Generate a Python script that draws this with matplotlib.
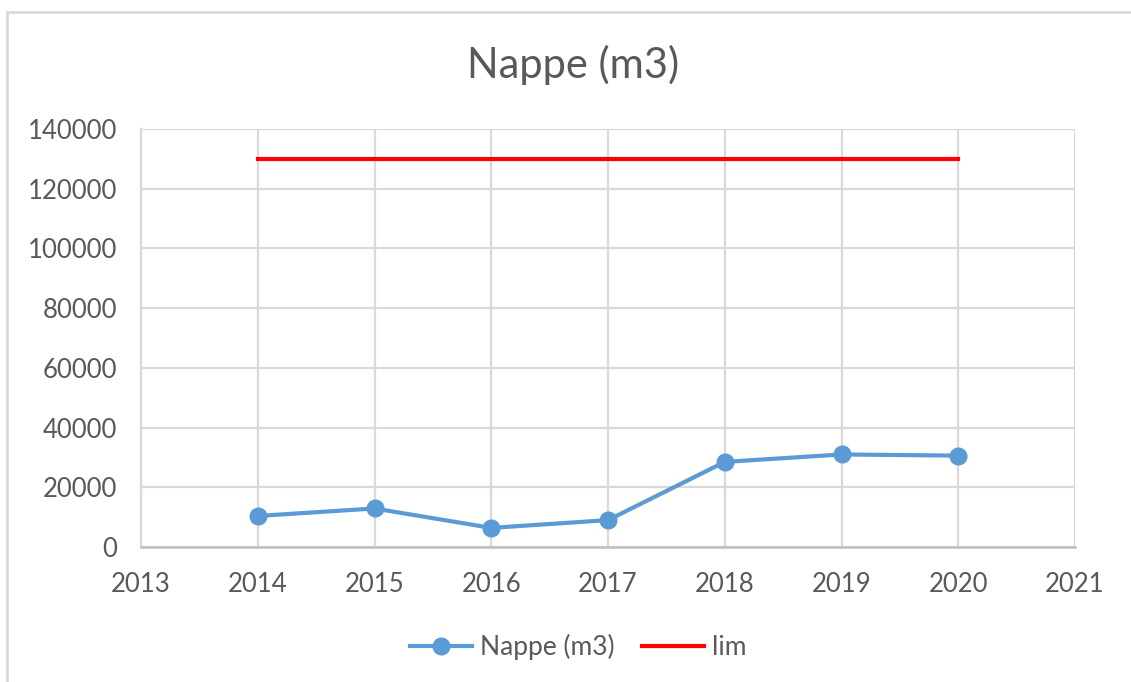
import matplotlib.pyplot as plt
from matplotlib.patches import Rectangle

years = [2014, 2015, 2016, 2017, 2018, 2019, 2020]
nappe = [10400, 12900, 6400, 9000, 28500, 31000, 30600]
lim = [130000, 130000, 130000, 130000, 130000, 130000, 130000]

plt.rcParams['font.family'] = ['Lato', 'DejaVu Sans']

fig = plt.figure(figsize=(11.31, 6.82), dpi=100)
ax = fig.add_axes([141/1131, 1 - 547/682, (1075-141)/1131, (547-129)/682])

# outer chart frame (cut off on right and bottom like the screenshot)
fig.patches.append(Rectangle((7/1131, -0.1), 1.2, (682-12)/682 + 0.1,
                             transform=fig.transFigure, fill=False,
                             edgecolor='#d9d9d9', linewidth=2))

ax.plot(years, nappe, color='#5b9bd5', linewidth=3, marker='o', markersize=12,
        label='Nappe (m3)', zorder=3)
ax.plot(years, lim, color='#ff0000', linewidth=3, label='lim', zorder=3)

ax.set_xlim(2013, 2021)
ax.set_ylim(0, 140000)
ax.set_xticks(range(2013, 2022))
ax.set_yticks(range(0, 140001, 20000))
ax.grid(True, color='#d9d9d9', linewidth=1.6)
ax.set_axisbelow(True)
for s in ['top', 'right']:
    ax.spines[s].set_visible(False)
ax.spines['left'].set_color('#d9d9d9')
ax.spines['left'].set_linewidth(1.6)
ax.spines['bottom'].set_color('#bfbfbf')
ax.spines['bottom'].set_linewidth(1.8)
ax.tick_params(length=0, labelsize=18.5, labelcolor='#595959')
ax.tick_params(axis='y', pad=17)
ax.tick_params(axis='x', pad=18)

fig.text(573/1131, 1 - 65/682, 'Nappe (m3)', ha='center', va='center',
         fontsize=30, color='#595959')

fig.legend(loc='center', bbox_to_anchor=(578/1131, 1 - 647/682), ncol=2,
           frameon=False, fontsize=19, labelcolor='#595959',
           handlelength=2.35, handletextpad=0.3, columnspacing=1.05)

fig.savefig('out.png', dpi=100)
